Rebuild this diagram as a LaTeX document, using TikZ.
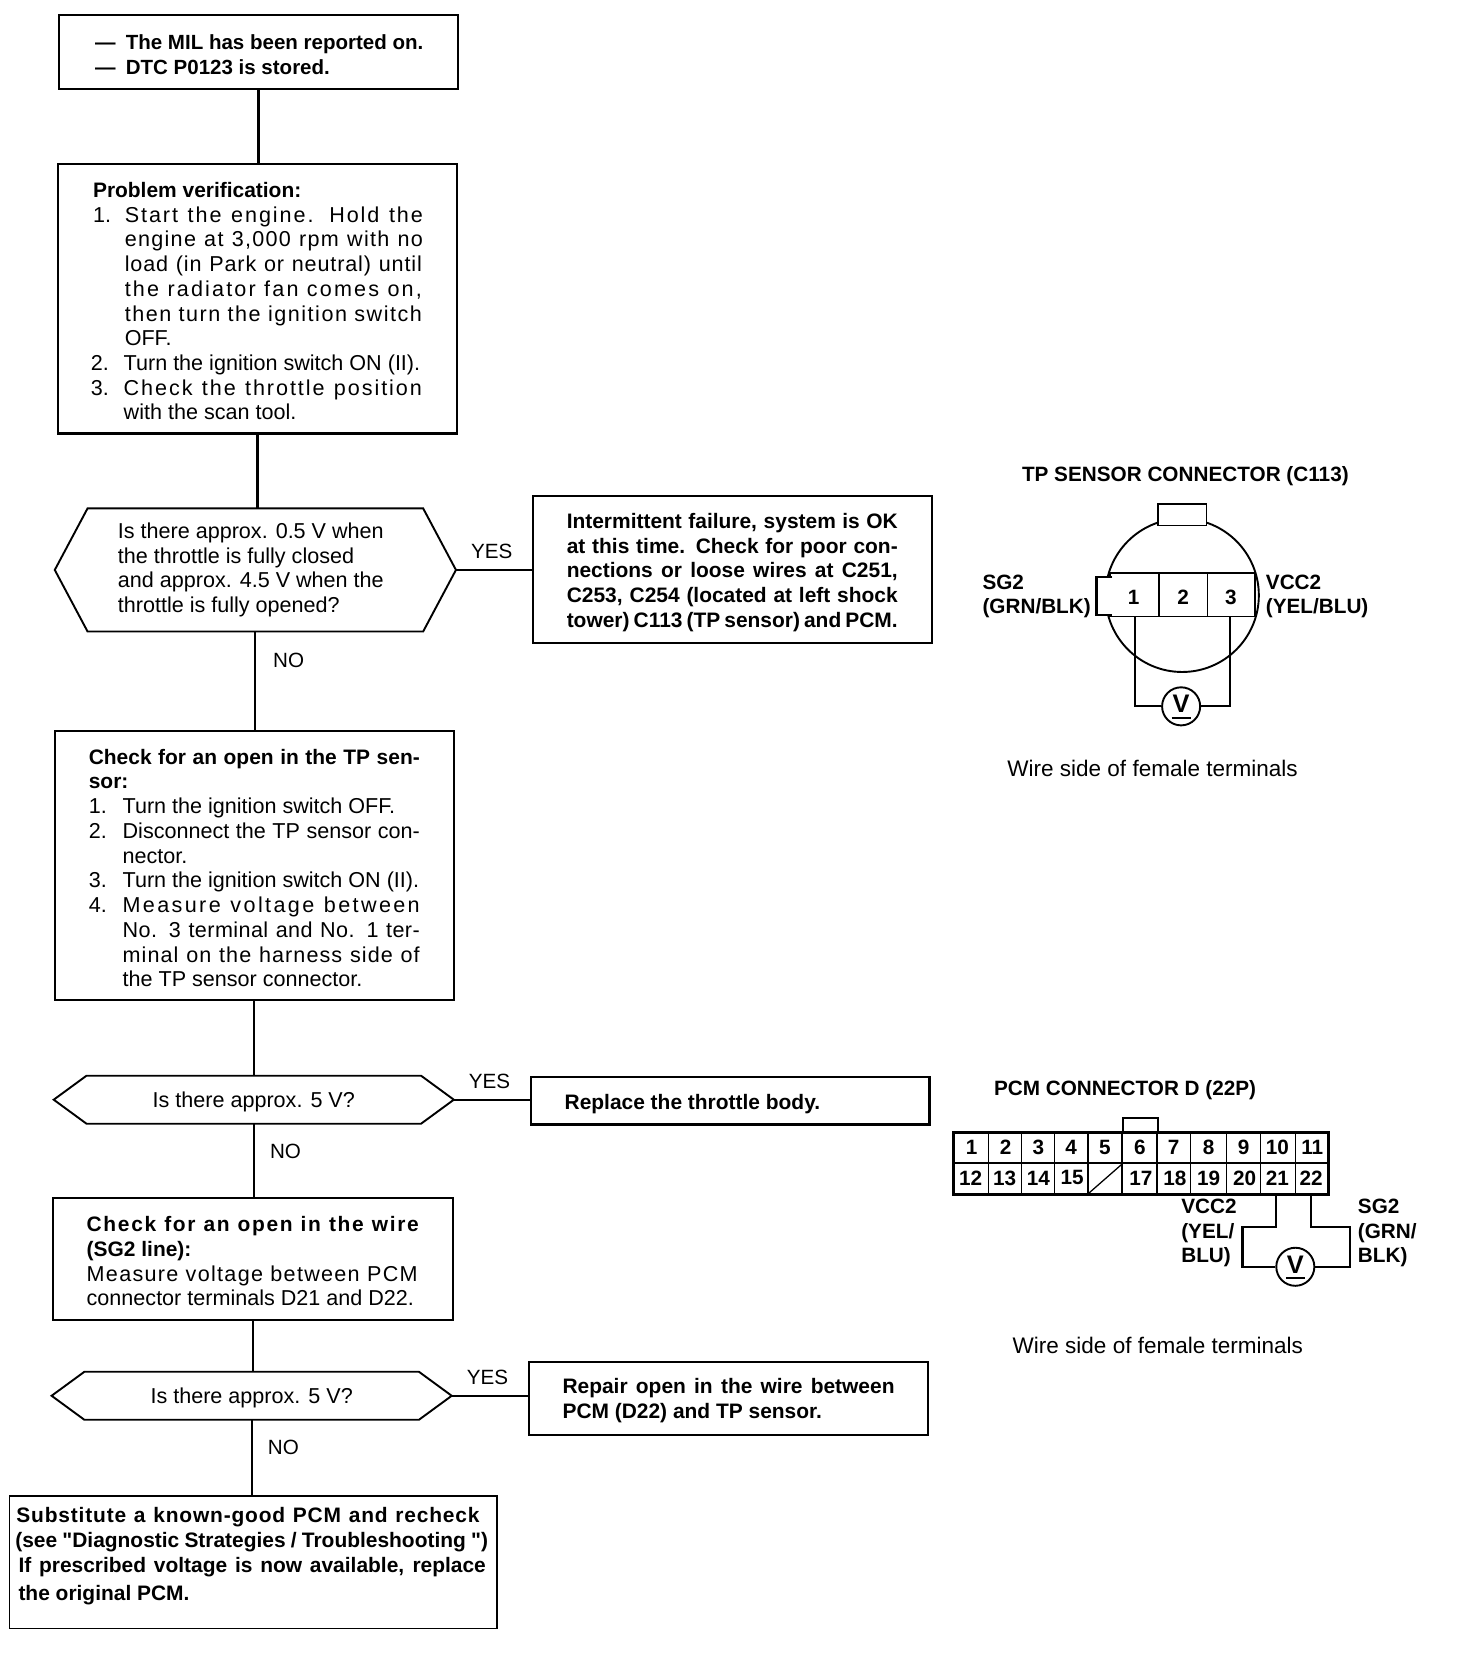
\documentclass[tikz,border=0pt]{standalone}
\usepackage{fontspec}
\setmainfont{Liberation Sans}[Ligatures=TeXOff]
\usetikzlibrary{calc}
\newcommand\fl[2]{\makebox[#1pt][s]{#2}}
\newcommand\nm[1]{\makebox[30pt][l]{#1}}
\newcommand\ls[1]{\addfontfeature{LetterSpace=#1}}
\newcommand\toppad[1]{\rule{0pt}{\dimexpr 15pt+#1pt\relax}}
\newcommand\bt[1]{{\fontsize{19.8}{23.4}\selectfont\bfseries #1}}
\newcommand\hexa[2]{\draw[line width=1.8pt,line join=miter] (#1.west) -- ([xshift=#2pt]#1.north west) -- ([xshift=-#2pt]#1.north east) -- (#1.east) -- ([xshift=-#2pt]#1.south east) -- ([xshift=#2pt]#1.south west) -- cycle;}
\tikzset{
  x=1pt,y=-1pt,
  base/.style={font=\fontsize{20.4}{23.4}\selectfont},
  tbox/.style={base,draw,line width=2pt,inner sep=0pt,align=flush left,fill=white},
  hexnode/.style={base,inner sep=0pt,align=flush left},
  lab/.style={inner sep=0pt,font=\fontsize{19.5}{23.4}\selectfont},
  note/.style={inner sep=0pt,font=\fontsize{21.3}{23.4}\selectfont},
  bold/.style={font=\fontsize{19.8}{23.4}\selectfont\bfseries},
  lbold/.style={font=\fontsize{19.6}{23.4}\selectfont\bfseries},
  vmark/.style={inner sep=0pt,font=\fontsize{24}{24}\selectfont\bfseries},
  link/.style={line width=2pt},
  wire/.style={line width=2pt},
  grid/.style={line width=1.4pt},
  hvy/.style={line width=2.8pt}
}
\begin{document}
\begin{tikzpicture}
\useasboundingbox (0,0) rectangle (1377,1568);
% flow boxes
\node[tbox,font=\fontsize{19.4}{23.4}\selectfont\bfseries,minimum width=377pt,minimum height=70pt,text width=313pt] (b1) at (244.5,49) {\toppad{4}\nm{\hspace*{2pt}—}\hspace*{1pt}\mbox{The MIL has been reported on.}\\\nm{\hspace*{2pt}—}\hspace*{1pt}DTC P0123 is stored.};
\node[tbox,minimum width=377pt,minimum height=255pt,text width=315pt] (b2) at (243.5,282.5) {\toppad{4}\hspace*{2pt}\bt{Problem verification:}\\
\hspace*{2pt}\nm{1.}\fl{282}{\ls{9}Start the engine. Hold the}\\
\hspace*{32pt}\fl{282}{\ls{6}engine at 3,000 rpm with no}\\
\hspace*{32pt}\fl{281}{\ls{4}load (in Park or neutral) until}\\
\hspace*{32pt}\fl{281}{\ls{10}the radiator fan comes on,}\\
\hspace*{32pt}\fl{281}{\ls{7}then turn the ignition switch}\\
\hspace*{32pt}OFF.\\
\nm{2.}\hspace*{1pt}\mbox{Turn the ignition switch ON (II).}\\
\nm{3.}\hspace*{1pt}\fl{282}{\ls{9}Check the throttle position}\\
\hspace*{31pt}with the scan tool.};
\node[hexnode,minimum width=379pt,minimum height=116pt,text width=260pt] (h1) at (241.5,539) {Is there approx. 0.5 V when\\the throttle is fully closed\\and approx. 4.5 V when the\\throttle is fully opened?};
\hexa{h1}{31}
\node[tbox,bold,minimum width=377pt,minimum height=139pt,text width=313pt] (b3) at (692.5,538.5) {\toppad{5}\fl{313}{Intermittent failure, system is OK}\\\fl{313}{at this time. Check for poor con-}\\\fl{313}{nections or loose wires at C251,}\\\fl{313}{C253, C254 (located at left shock}\\\fl{313}{tower) C113 (TP sensor) and PCM.}};
\node[tbox,minimum width=377pt,minimum height=255pt,text width=313pt] (b4) at (240.5,818.5) {\toppad{4}\bt{\fl{313}{Check for an open in the TP sen-}}\\\bt{sor:}\\
\nm{1.}\hspace*{2pt}Turn the ignition switch OFF.\\
\nm{2.}\hspace*{2pt}\fl{281}{Disconnect the TP sensor con-}\\
\hspace*{32pt}nector.\\
\nm{3.}\hspace*{2pt}\mbox{Turn the ignition switch ON (II).}\\
\nm{4.}\hspace*{2pt}\fl{281}{\ls{11}Measure voltage between}\\
\hspace*{32pt}\fl{281}{\ls{2}No. 3 terminal and No. 1 ter-}\\
\hspace*{32pt}\fl{281}{\ls{5}minal on the harness side of}\\
\hspace*{32pt}the TP sensor connector.};
\node[hexnode,align=flush center,minimum width=378pt,minimum height=45pt] (h2) at (240,1040) {\toppad{4}Is there approx. 5 V?};
\hexa{h2}{31}
\node[tbox,bold,minimum width=377pt,minimum height=45pt,text width=313pt] (b5) at (690.5,1041) {\toppad{5}Replace the throttle body.};
\node[tbox,minimum width=378pt,minimum height=115pt,text width=314pt] (b6) at (239,1190.5) {\toppad{4}\bt{\fl{314}{\ls{8}Check for an open in the wire}}\\\bt{(SG2 line):}\\\fl{313}{\ls{6}Measure voltage between PCM}\\\mbox{connector terminals D21 and D22.}};
\node[hexnode,align=flush center,minimum width=378pt,minimum height=45pt] (h3) at (238,1320) {\toppad{4}Is there approx. 5 V?};
\hexa{h3}{31}
\node[tbox,bold,minimum width=378pt,minimum height=69pt,text width=314pt] (b7) at (689,1322.5) {\toppad{4}\fl{314}{Repair open in the wire between}\\PCM (D22) and TP sensor.};
\node[tbox,bold,line width=1.5pt,minimum width=461pt,minimum height=125pt,text width=448pt] (b8) at (239.5,1477.5) {\fl{438}{\ls{4}Substitute a known-good PCM and recheck}\\\hspace*{-1pt}\fl{447}{(see "Diagnostic Strategies / Troubleshooting ")}\\[1pt]\hspace*{2pt}\fl{442}{If prescribed voltage is now available, replace}\\[2.6pt]\hspace*{2pt}the original PCM.\\[-7.4pt]\mbox{}};
% connectors
\draw[link] (b1.south) -- (b1.south |- b2.north);
\draw[link] (b2.south) -- (b2.south |- h1.north);
\draw[link] (h1.south) -- (h1.south |- b4.north);
\draw[link] (b4.south) -- (b4.south |- h2.north);
\draw[link] (h2.south) -- (h2.south |- b6.north);
\draw[link] (b6.south) -- (b6.south |- h3.north);
\draw[link] (h3.south) -- (h3.south |- b8.north);
\draw[link] (h1.east) -- (h1.east -| b3.west);
\draw[link] (h2.east) -- (h2.east -| b5.west);
\draw[link] (h3.east) -- (h3.east -| b7.west);
% branch labels
\node[lab] (y1) at (465,521) {YES};
\node[lab] (n1) at (273,625) {NO};
\node[lab] (y2) at (463,1023) {YES};
\node[lab] (n2) at (270,1089) {NO};
\node[lab] (y3) at (461,1303) {YES};
\node[lab] (n3) at (268,1369) {NO};
% TP sensor connector
\node[lab,lbold] (t1) at (1121,450) {TP SENSOR CONNECTOR (C113)};
\draw[line width=1.8pt] (1118,563) circle (72.5);
\draw[line width=1.8pt,fill=white] (1095,497) rectangle (1141,477);
\draw[line width=1.5pt,fill=white] (1050,542) rectangle (1187,583);
\fill[white] (1038,547) rectangle (1054,581);
\draw[line width=2pt] (1052,546) -- (1037,546) -- (1037,582) -- (1052,582);
\draw[grid] (1096,542) -- (1096,583);
\draw[grid] (1142,542) -- (1142,583);
\node[lab,lbold] (c1) at (1072,565) {1};
\node[lab,lbold] (c2) at (1119,565) {2};
\node[lab,lbold] (c3) at (1164,565) {3};
\node[circle,draw,line width=1.8pt,minimum size=36pt,inner sep=0pt,fill=white] (v1) at (1117,668) {};
\node[vmark] (v1t) at (1117,666) {V};
\draw[line width=2pt] (1108,679) -- (1126,679);
\coordinate (w1a) at (1073,583);
\coordinate (w1b) at (1163,583);
\draw[wire] (w1a) -- (w1a |- v1.west) -- (v1.west);
\draw[wire] (w1b) -- (w1b |- v1.east) -- (v1.east);
\node[lab,lbold,anchor=west,align=left] (t2) at (929,564) {SG2\\(GRN/BLK)};
\node[lab,lbold,anchor=west,align=left] (t3) at (1197,564) {VCC2\\(YEL/BLU)};
\node[note] (t4) at (1090,727) {Wire side of female terminals};
% PCM connector
\node[lab,lbold] (p1) at (1064,1031) {PCM CONNECTOR D (22P)};
\draw[line width=1.6pt] (1062,1071) -- (1062,1057) -- (1095,1057) -- (1095,1071);
\draw[hvy] (902,1071) rectangle (1256,1130);
\draw[grid] (902,1100) -- (1256,1100);
\foreach \gx in {935,966,997,1029,1061,1094,1126,1160,1192,1225}{\draw[grid] (\gx,1071) -- (\gx,1130);}
\draw[line width=1.2pt] (1029,1129) -- (1061,1101);
\foreach \n/\gx in {1/919,2/951,3/982,4/1013,5/1045,6/1078,7/1110,8/1143,9/1176,10/1208,11/1241}{\node[lab,lbold] (pa\n) at (\gx,1085) {\n};}
\foreach \n/\gx in {12/918,13/950,14/982,15/1014,17/1079,18/1111,19/1143,20/1177,21/1208,22/1240}{\node[lab,lbold] (pb\n) at (\gx,1114) {\n};}
\node[circle,draw,line width=1.8pt,minimum size=36pt,inner sep=0pt,fill=white] (v2) at (1225,1198) {};
\node[vmark] (v2t) at (1225,1196) {V};
\draw[line width=2pt] (1216,1209) -- (1234,1209);
\coordinate (w2a) at (1207,1130);
\coordinate (w2b) at (1240,1130);
\draw[wire] (w2a) -- (1207,1160) -- (1175,1160) -- (1175,1198) -- (v2.west);
\draw[wire] (w2b) -- (1240,1160) -- (1277,1160) -- (1277,1198) -- (v2.east);
\node[lab,lbold,anchor=west,align=left] (p2) at (1117,1166) {VCC2\\(YEL/\\BLU)};
\node[lab,lbold,anchor=west,align=left] (p3) at (1284,1166) {SG2\\(GRN/\\BLK)};
\node[note] (p4) at (1095,1272) {Wire side of female terminals};
\end{tikzpicture}
\end{document}
